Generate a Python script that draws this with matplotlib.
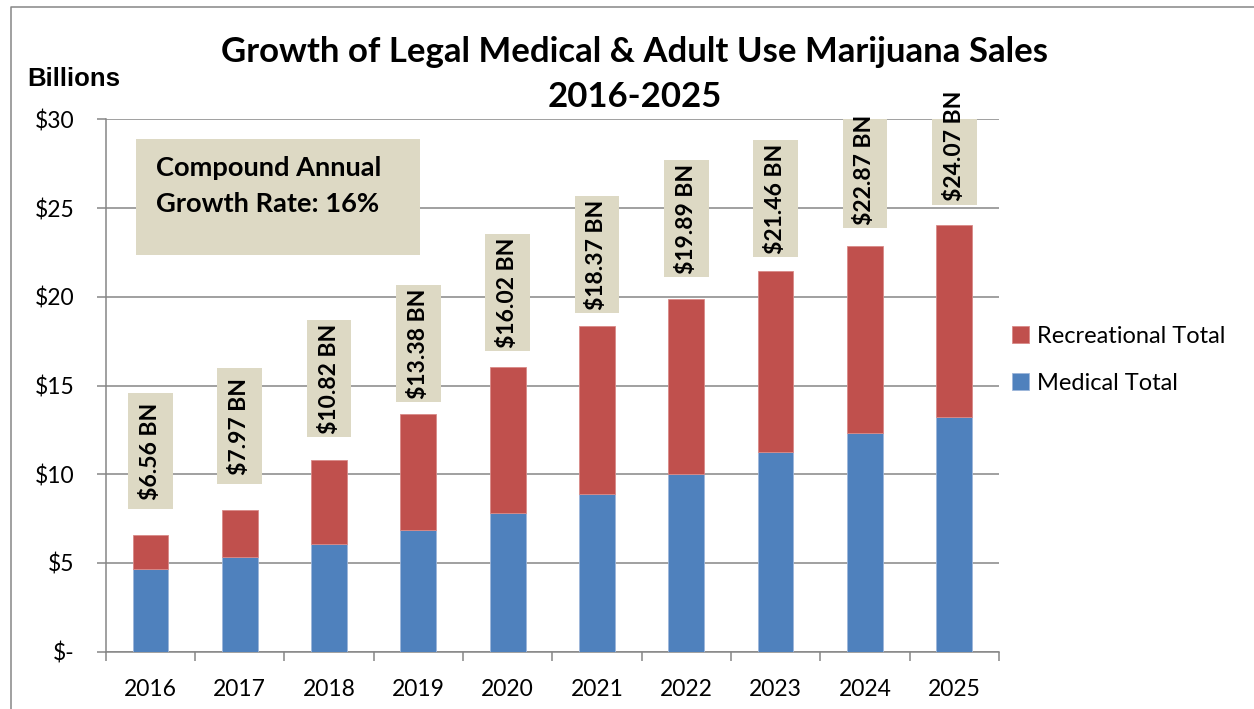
import matplotlib
matplotlib.use("Agg")
import matplotlib.pyplot as plt
from matplotlib.patches import Rectangle
from matplotlib.lines import Line2D

# sales in $ billions
years = ["2016", "2017", "2018", "2019", "2020", "2021", "2022", "2023", "2024", "2025"]
totals = [6.56, 7.97, 10.82, 13.38, 16.02, 18.37, 19.89, 21.46, 22.87, 24.07]
medical = [4.65, 5.32, 6.06, 6.85, 7.79, 8.88, 10.04, 11.25, 12.32, 13.20]
recreational = [t - m for t, m in zip(totals, medical)]
ytick_vals = [0, 5, 10, 15, 20, 25, 30]
ytick_labels = ["$-", "$5", "$10", "$15", "$20", "$25", "$30"]

# gap between each bar top and its callout box (data units)
label_gap = [1.46, 1.46, 1.30, 0.70, 0.94, 0.73, 1.24, 0.79, 1.01, 1.13]

BLUE = "#4F81BD"
RED = "#C0504D"
TAN = "#DDD9C4"
GRID = "#868686"
FONT = "Lato"

fig = plt.figure(figsize=(12.54, 7.09), dpi=100)
ax = fig.add_axes([0.0843, 0.0808, 0.7123, 0.7509])

x = range(len(years))
ax.bar(x, medical, width=0.40, color=BLUE, edgecolor="#9DB6DA", linewidth=0.6,
       label="Medical Total", zorder=3)
ax.bar(x, recreational, bottom=medical, width=0.40, color=RED, edgecolor="#D98A88",
       linewidth=0.6, label="Recreational Total", zorder=3)

ax.set_xlim(-0.5, len(years) - 0.5)
ax.set_ylim(0, 30)
ax.set_yticks(ytick_vals)
ax.set_yticklabels(ytick_labels, fontsize=16.5, family=FONT)
ax.set_xticks(list(x))
ax.set_xticklabels(years, fontsize=16.5, family=FONT)
ax.set_xticks([i - 0.5 for i in range(len(years) + 1)], minor=True)
ax.tick_params(axis="x", which="major", length=0, pad=20)
ax.tick_params(axis="x", which="minor", length=6.5, width=1.1, color=GRID)
ax.tick_params(axis="y", length=6.5, width=1.1, color=GRID, pad=16)

ax.grid(axis="y", color=GRID, linewidth=1.1, zorder=0)
ax.set_axisbelow(True)
for s in ("top", "right"):
    ax.spines[s].set_visible(False)
for s in ("left", "bottom"):
    ax.spines[s].set_color(GRID)
    ax.spines[s].set_linewidth(1.1)

# total callouts
for i, (tot, gap) in enumerate(zip(totals, label_gap)):
    y0 = tot + gap
    ax.add_patch(Rectangle((i - 0.25, y0), 0.50, 6.56, facecolor=TAN,
                           edgecolor="none", zorder=4))
    ax.text(i, y0 + 3.28, f"${tot:.2f} BN", rotation=90, ha="center", va="center",
            fontsize=16.5, weight="bold", family=FONT, zorder=5)

# CAGR note
fig.patches.append(Rectangle((136 / 1254, 1 - 255 / 709), 284 / 1254, 116 / 709,
                             transform=fig.transFigure, facecolor=TAN,
                             edgecolor="none", zorder=2))
fig.text(156 / 1254, 1 - 168 / 709, "Compound Annual", fontsize=19.6,
         weight="bold", family=FONT, va="center", ha="left")
fig.text(156 / 1254, 1 - 204 / 709, "Growth Rate: 16%", fontsize=19.6,
         weight="bold", family=FONT, va="center", ha="left")

fig.text(0.506, 1 - 52 / 709, "Growth of Legal Medical & Adult Use Marijuana Sales",
         ha="center", va="center", fontsize=25, weight="bold", family=FONT)
fig.text(0.506, 1 - 97 / 709, "2016-2025", ha="center", va="center",
         fontsize=25, weight="bold", family=FONT)
fig.text(27 / 1254, 1 - 79 / 709, "Billions", ha="left", va="center",
         fontsize=18.5, weight="bold", family="Liberation Sans")

handles, labels = ax.get_legend_handles_labels()
ax.legend(handles[::-1], labels[::-1], loc="center left",
          bbox_to_anchor=(991 / 1254, 1 - 360 / 709), bbox_transform=fig.transFigure,
          frameon=False, handlelength=0.7, handleheight=0.7, handletextpad=0.35,
          labelspacing=1.1, prop={"family": FONT, "size": 17})

# outer chart frame (left and top edges)
fig.add_artist(Line2D([11 / 1254, 11 / 1254, 1], [0, 1 - 7 / 709, 1 - 7 / 709],
                      transform=fig.transFigure, color=GRID, linewidth=1.1))

fig.savefig("out.png", dpi=100)
